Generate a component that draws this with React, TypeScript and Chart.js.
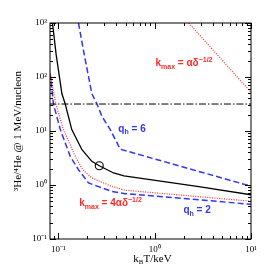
import React, { useEffect, useRef } from 'react';
import { Chart, registerables } from 'chart.js';

Chart.register(...registerables);

// kT (keV) / 3He/4He ratio values
const blackT = [0.087, 0.095, 0.109, 0.118, 0.138, 0.176, 0.223, 0.266, 0.375, 0.48, 2.76, 10];
const blackR = [1000, 259, 49, 31.6, 10.6, 4.5, 2.74, 2.27, 1.67, 1.47, 0.94, 0.66];

const q6T = [0.162, 0.186, 0.223, 0.252, 0.284, 0.346, 0.44, 10];
const q6R = [1000, 259, 49, 31.6, 18.6, 10.6, 4.6, 0.95];

const q2T = [0.0815, 0.0838, 0.089, 0.105, 0.133, 0.162, 0.206, 0.361, 0.496, 10];
const q2R = [120, 89, 31.6, 10.6, 3.39, 1.92, 1.09, 0.76, 0.69, 0.44];

const k4T = [0.0815, 0.0944, 0.113, 0.15, 0.179, 0.223, 0.361, 0.496, 10];
const k4R = [130, 31.6, 10.6, 3.39, 1.92, 1.35, 0.94, 0.8, 0.5];

const k1T = [2.26, 10];
const k1R = [1000, 52];

const limitT = [0.08, 10];
const limitR = [31.6, 31.6];

const circleT = [0.266];
const circleR = [2.27];

const xTicks = [0.1, 1, 10];
const xTickLabels = ['10⁻¹', '10⁰', '10¹'];
const yTicks = [0.1, 1, 10, 100, 1000];
const yTickLabels = ['10⁻¹', '10⁰', '10¹', '10²', '10³'];

const RED = '#ff2a2a';
const BLUE = '#3036f2';

type Part = { t: string; s?: 'sub' | 'sup' };
const labels: { x: number; y: number; color: string; parts: Part[] }[] = [
  { x: 1.02, y: 176, color: RED, parts: [{ t: 'k' }, { t: 'max', s: 'sub' }, { t: ' = αδ' }, { t: '−1/2', s: 'sup' }] },
  { x: 0.42, y: 11, color: BLUE, parts: [{ t: 'q' }, { t: 'h', s: 'sub' }, { t: ' = 6' }] },
  { x: 0.165, y: 0.45, color: RED, parts: [{ t: 'k' }, { t: 'max', s: 'sub' }, { t: ' = 4αδ' }, { t: '−1/2', s: 'sup' }] },
  { x: 1.99, y: 0.334, color: BLUE, parts: [{ t: 'q' }, { t: 'h', s: 'sub' }, { t: ' = 2' }] },
];

const pts = (xs: number[], ys: number[]) => xs.map((x, i) => ({ x, y: ys[i] }));

function drawRich(ctx: CanvasRenderingContext2D, x: number, y: number, parts: Part[], family: string, size: number, weight: string) {
  let cx = x;
  ctx.textBaseline = 'middle';
  ctx.textAlign = 'left';
  for (const p of parts) {
    const sz = p.s ? Math.round(size * 0.68) : size;
    ctx.font = `${weight} ${sz}px ${family}`;
    const dy = p.s === 'sub' ? size * 0.3 : p.s === 'sup' ? -size * 0.38 : 0;
    ctx.fillText(p.t, cx, y + dy);
    cx += ctx.measureText(p.t).width;
  }
}

const framePlugin = {
  id: 'frameTicks',
  afterDraw(chart: any) {
    const { ctx, chartArea: a, scales } = chart;
    const xs = scales.x;
    const ys = scales.y;
    ctx.save();
    ctx.strokeStyle = '#000';
    ctx.lineWidth = 1;
    ctx.strokeRect(a.left, a.top, a.right - a.left, a.bottom - a.top);
    const major = 6;
    const minor = 3;
    ctx.beginPath();
    for (let e = -2; e <= 3; e++) {
      for (let m = 1; m <= 9; m++) {
        const v = m * Math.pow(10, e);
        const len = m === 1 ? major : minor;
        if (v >= xs.min * 0.9999 && v <= xs.max * 1.0001) {
          const px = Math.round(xs.getPixelForValue(v)) + 0.5;
          ctx.moveTo(px, a.bottom);
          ctx.lineTo(px, a.bottom - len);
          ctx.moveTo(px, a.top);
          ctx.lineTo(px, a.top + len);
        }
        if (v >= ys.min * 0.9999 && v <= ys.max * 1.0001) {
          const py = Math.round(ys.getPixelForValue(v)) + 0.5;
          ctx.moveTo(a.left, py);
          ctx.lineTo(a.left + len, py);
          ctx.moveTo(a.right, py);
          ctx.lineTo(a.right - len, py);
        }
      }
    }
    ctx.stroke();

    for (const l of labels) {
      ctx.fillStyle = l.color;
      drawRich(ctx, xs.getPixelForValue(l.x), ys.getPixelForValue(l.y), l.parts, '"Liberation Sans", Arial, sans-serif', 10, 'bold');
    }

    // x axis title k_B T / keV
    ctx.fillStyle = '#000';
    const titleParts: Part[] = [{ t: 'k' }, { t: 'B', s: 'sub' }, { t: 'T/keV' }];
    let w = 0;
    for (const p of titleParts) {
      ctx.font = `${p.s ? 7 : 11}px "Liberation Serif", serif`;
      w += ctx.measureText(p.t).width;
    }
    drawRich(ctx, (a.left + a.right) / 2 + 2 - w / 2, 259, titleParts, '"Liberation Serif", serif', 11, 'normal');
    ctx.restore();
  },
};

export default function App() {
  const ref = useRef<HTMLCanvasElement>(null);
  useEffect(() => {
    if (!ref.current) return;
    const tickFont = { family: '"Liberation Serif", serif', size: 9 };
    const chart = new Chart(ref.current, {
      type: 'scatter',
      data: {
        datasets: [
          { data: pts(limitT, limitR), showLine: true, borderColor: '#000', borderWidth: 1, borderDash: [7, 2, 1.5, 2], pointRadius: 0 },
          { data: pts(k1T, k1R), showLine: true, borderColor: RED, borderWidth: 1.2, borderDash: [1, 1.4], pointRadius: 0 },
          { data: pts(k4T, k4R), showLine: true, borderColor: RED, borderWidth: 1.2, borderDash: [1, 1.4], pointRadius: 0 },
          { data: pts(q2T, q2R), showLine: true, borderColor: BLUE, borderWidth: 1.5, borderDash: [6, 3], pointRadius: 0 },
          { data: pts(q6T, q6R), showLine: true, borderColor: BLUE, borderWidth: 1.5, borderDash: [6, 3], pointRadius: 0 },
          { data: pts(blackT, blackR), showLine: true, borderColor: '#000', borderWidth: 1.3, pointRadius: 0 },
          { data: pts(circleT, circleR), showLine: false, pointRadius: 4, pointBorderColor: '#000', pointBackgroundColor: 'rgba(0,0,0,0)', pointBorderWidth: 1.1, pointStyle: 'circle' },
        ] as any,
      },
      options: {
        animation: false,
        responsive: false,
        events: [],
        layout: { padding: { left: 0, top: 23, right: 22, bottom: 0 } },
        plugins: { legend: { display: false }, tooltip: { enabled: false } },
        scales: {
          x: {
            type: 'logarithmic',
            min: 0.082,
            max: 10,
            afterFit: (s: any) => { s.height = 34; },
            afterBuildTicks: (s: any) => { s.ticks = xTicks.map((v) => ({ value: v })); },
            grid: { display: false, drawTicks: false },
            border: { display: false },
            ticks: {
              autoSkip: false,
              maxRotation: 0,
              padding: 5,
              color: '#000',
              font: tickFont,
              callback: (v: any) => xTickLabels[xTicks.indexOf(Number(v))] ?? '',
            },
          },
          y: {
            type: 'logarithmic',
            min: 0.1,
            max: 1000,
            afterFit: (s: any) => { s.width = 50; },
            afterBuildTicks: (s: any) => { s.ticks = yTicks.map((v) => ({ value: v })); },
            grid: { display: false, drawTicks: false },
            border: { display: false },
            title: {
              display: true,
              text: '³He/⁴He @ 1 MeV/nucleon',
              color: '#000',
              font: { family: '"Liberation Serif", serif', size: 11 },
              padding: { top: 12, bottom: 0 },
            },
            ticks: {
              autoSkip: false,
              padding: 3,
              color: '#000',
              font: tickFont,
              callback: (v: any) => yTickLabels[yTicks.indexOf(Number(v))] ?? '',
            },
          },
        },
      } as any,
      plugins: [framePlugin],
    });
    return () => chart.destroy();
  }, []);
  return (
    <div style={{ position: 'fixed', left: 0, top: 0, width: 273, height: 273, background: '#fff' }}>
      <canvas ref={ref} width={273} height={273} style={{ width: 273, height: 273, display: 'block' }} />
    </div>
  );
}
